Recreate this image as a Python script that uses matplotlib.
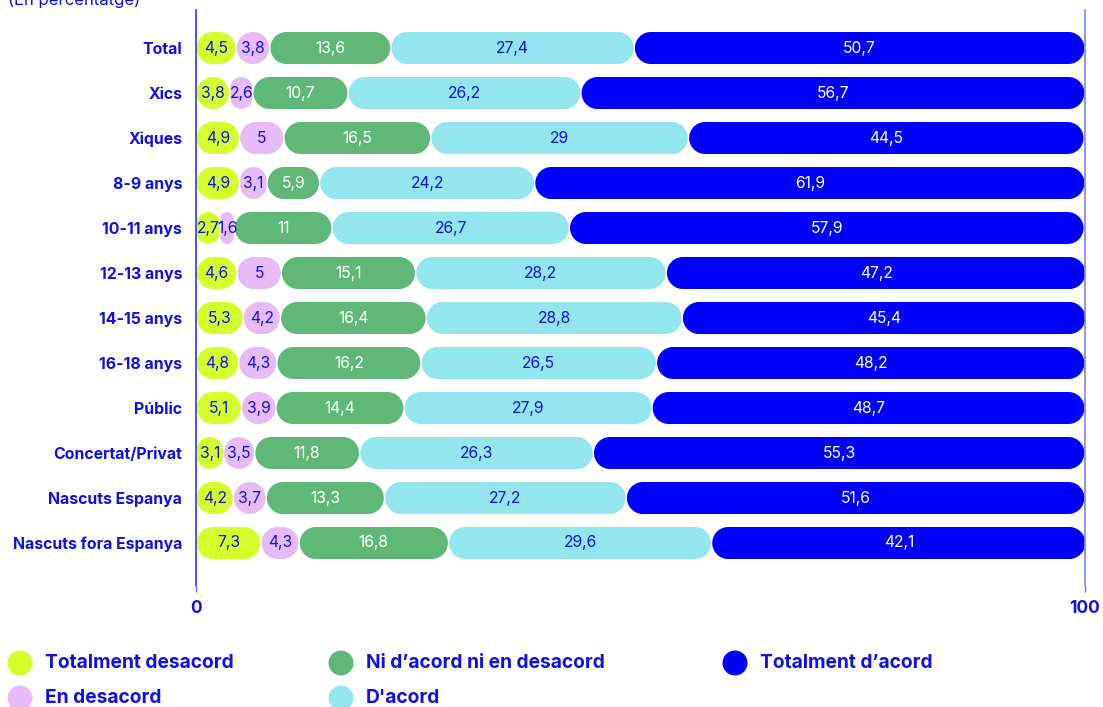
import matplotlib
matplotlib.use("Agg")
import numpy as np
import matplotlib.pyplot as plt
from matplotlib.patches import Polygon, Ellipse

categories = ["Total", "Xics", "Xiques", "8-9 anys", "10-11 anys", "12-13 anys",
              "14-15 anys", "16-18 anys", "Públic", "Concertat/Privat",
              "Nascuts Espanya", "Nascuts fora Espanya"]
series_names = ["Totalment desacord", "En desacord", "Ni d’acord ni en desacord",
                "D'acord", "Totalment d’acord"]
totalment_desacord = [4.5, 3.8, 4.9, 4.9, 2.7, 4.6, 5.3, 4.8, 5.1, 3.1, 4.2, 7.3]
en_desacord = [3.8, 2.6, 5, 3.1, 1.6, 5, 4.2, 4.3, 3.9, 3.5, 3.7, 4.3]
ni_acord = [13.6, 10.7, 16.5, 5.9, 11, 15.1, 16.4, 16.2, 14.4, 11.8, 13.3, 16.8]
dacord = [27.4, 26.2, 29, 24.2, 26.7, 28.2, 28.8, 26.5, 27.9, 26.3, 27.2, 29.6]
totalment_acord = [50.7, 56.7, 44.5, 61.9, 57.9, 47.2, 45.4, 48.2, 48.7, 55.3, 51.6, 42.1]
series = [totalment_desacord, en_desacord, ni_acord, dacord, totalment_acord]

colors = ["#D4FF2A", "#E6BBF7", "#5FB878", "#93E6EE", "#0000FF"]
text_colors = ["#1010E8", "#1010E8", "white", "#1010E8", "white"]
blue = "#1010E8"

W, H = 1103, 707
fig = plt.figure(figsize=(W / 100, H / 100), dpi=100)
plt.rcParams['font.family'] = ['Inter', 'DejaVu Sans']

left_px, right_px, top_px, bot_px = 196, 1085, 10, 585
ax = fig.add_axes([left_px / W, 1 - bot_px / H, (right_px - left_px) / W, (bot_px - top_px) / H])
n = len(categories)
row_px = 45
first_center = 48
ax.set_xlim(0, 100)
ax.set_ylim((bot_px - first_center) / row_px, -(first_center - top_px) / row_px)

px_per_x = (right_px - left_px) / 100.0
px_per_y = row_px
bar_h_px = 32
gap_px = 0.6


def rounded_segment(x0, x1, yc):
    """Rounded rectangle in data units whose corners are true circles on screen."""
    w_px = (x1 - x0) * px_per_x
    r_px = min(bar_h_px / 2, w_px / 2)
    rx = r_px / px_per_x
    ry = r_px / px_per_y
    hh = bar_h_px / 2 / px_per_y
    t = np.linspace(0, np.pi / 2, 16)
    pts = []
    for a in t[::-1]:
        pts.append((x1 - rx + rx * np.cos(a), yc - hh + ry - ry * np.sin(a)))
    for a in t:
        pts.append((x1 - rx + rx * np.cos(a), yc + hh - ry + ry * np.sin(a)))
    for a in t[::-1]:
        pts.append((x0 + rx - rx * np.cos(a), yc + hh - ry + ry * np.sin(a)))
    for a in t:
        pts.append((x0 + rx - rx * np.cos(a), yc - hh + ry - ry * np.sin(a)))
    return pts


for i, cat in enumerate(categories):
    start = 0.0
    for s, vals in enumerate(series):
        v = vals[i]
        g = gap_px / px_per_x
        ax.add_patch(Polygon(rounded_segment(start + g, start + v - g, i), closed=True,
                             facecolor=colors[s], edgecolor="none"))
        label = f"{v:g}".replace(".", ",")
        ax.text(start + v / 2, i, label, ha="center", va="center",
                fontsize=11.3, color=text_colors[s])
        start += v

ax.set_yticks(range(n))
ax.set_yticklabels(categories, fontsize=11.4, fontweight="bold", color=blue)
ax.tick_params(axis="y", length=0, pad=10)
ax.set_xticks([0, 100])
ax.set_xticklabels(["0", "100"], fontsize=12.5, fontweight="bold", color=blue)
ax.tick_params(axis="x", length=5, width=1, color="#7070FF", pad=6, direction="out")
for side in ["top", "bottom"]:
    ax.spines[side].set_visible(False)
ax.spines["left"].set_color("#3030FF")
ax.spines["right"].set_color("#8080FF")
ax.spines["left"].set_linewidth(1.2)
ax.spines["right"].set_linewidth(1.2)

fig.text(8 / W, 1 - 5 / H, "(En percentatge)", fontsize=12, color=blue,
         ha="left", va="baseline")

# legend
legend_pos = [(20, 662), (20, 697), (341, 662), (341, 697), (735, 662)]
for s, (cx, cy) in enumerate(legend_pos):
    fig.patches.append(Ellipse((cx / W, 1 - (cy + 1) / H), 25 / W, 25 / H,
                               transform=fig.transFigure, facecolor=colors[s],
                               edgecolor="none"))
    fig.text((cx + 25) / W, 1 - (cy + 1) / H, series_names[s], fontsize=13.8,
             fontweight="bold", color=blue, ha="left", va="center")

fig.savefig("out.png", dpi=100)
